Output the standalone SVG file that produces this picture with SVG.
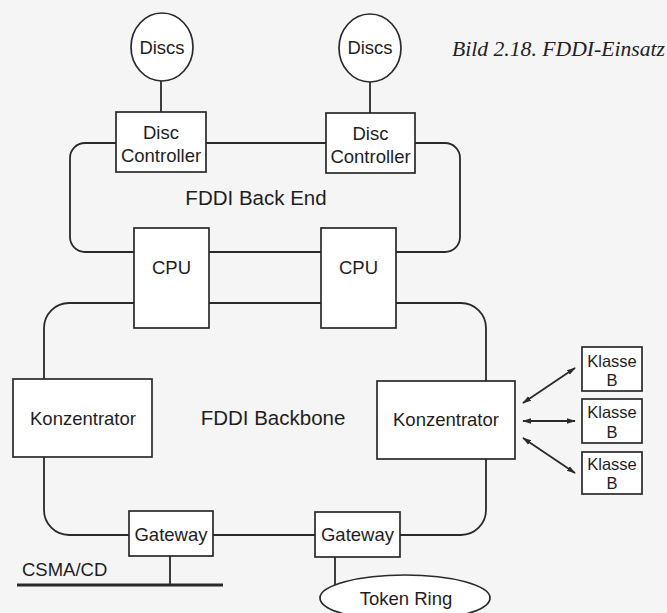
<svg xmlns="http://www.w3.org/2000/svg" width="667" height="613" viewBox="0 0 667 613">
<style>
.b{fill:#fff;stroke:#2a2a2a;stroke-width:1.7}
.l{fill:none;stroke:#2a2a2a;stroke-width:1.8}
.t{font-family:"Liberation Sans",Arial,sans-serif;font-size:18.5px;fill:#1e1e1e;text-anchor:middle}
.s{font-size:16.5px}
.r{font-size:20.5px}
</style>
<defs>
<marker id="a" viewBox="0 0 10 10" refX="9" refY="5" markerWidth="9" markerHeight="9" orient="auto-start-reverse" markerUnits="userSpaceOnUse"><path d="M0,2 L10,5 L0,8 z" fill="#2a2a2a"/></marker>
</defs>
<rect width="667" height="613" fill="#f5f5f5"/>
<text x="452" y="56" font-family="Liberation Serif,serif" font-style="italic" font-size="20.5" fill="#222" textLength="213" lengthAdjust="spacingAndGlyphs">Bild 2.18. FDDI-Einsatz</text>
<g id="connectors">
<rect class="l" x="70" y="143" width="390" height="109" rx="15"/>
<rect class="l" x="44" y="303" width="442" height="232" rx="25"/>
<line class="l" x1="161" y1="81" x2="161" y2="112"/>
<line class="l" x1="370" y1="82" x2="370" y2="113"/>
<line class="l" x1="170" y1="556" x2="170" y2="585"/>
<line x1="17" y1="585" x2="223" y2="585" stroke="#2a2a2a" stroke-width="3.2"/>
<line class="l" x1="335" y1="557" x2="335" y2="590"/>
<line class="l" x1="523" y1="403" x2="575" y2="368" marker-start="url(#a)" marker-end="url(#a)"/>
<line class="l" x1="523" y1="421" x2="575" y2="421" marker-start="url(#a)" marker-end="url(#a)"/>
<line class="l" x1="523" y1="438" x2="575" y2="473" marker-start="url(#a)" marker-end="url(#a)"/>
</g>
<g id="discs1"><ellipse class="b" cx="162" cy="47" rx="31" ry="34"/><text class="t" x="162" y="53.5">Discs</text></g>
<g id="discs2"><ellipse class="b" cx="370" cy="48" rx="31" ry="34"/><text class="t" x="370" y="54">Discs</text></g>
<g id="dc1"><rect class="b" x="116" y="112" width="90" height="60"/><text class="t" x="161" y="138.5">Disc</text><text class="t" x="161" y="161.5">Controller</text></g>
<g id="dc2"><rect class="b" x="326" y="113" width="89" height="60"/><text class="t" x="370.5" y="139.5">Disc</text><text class="t" x="370.5" y="162.5">Controller</text></g>
<text class="t r" x="256" y="205">FDDI Back End</text>
<g id="cpu1"><rect class="b" x="134" y="228" width="75" height="100"/><text class="t" x="171.5" y="273.5">CPU</text></g>
<g id="cpu2"><rect class="b" x="321" y="228" width="75" height="100"/><text class="t" x="358.5" y="273.5">CPU</text></g>
<g id="konz1"><rect class="b" x="13" y="379" width="139" height="78"/><text class="t" x="83" y="424.5">Konzentrator</text></g>
<text class="t r" x="273" y="425">FDDI Backbone</text>
<g id="konz2"><rect class="b" x="377" y="381" width="138" height="78"/><text class="t" x="446" y="425.5">Konzentrator</text></g>
<g id="k1"><rect class="b" x="582" y="347" width="60" height="44"/><text class="t s" x="612" y="367">Klasse</text><text class="t s" x="612" y="386">B</text></g>
<g id="k2"><rect class="b" x="582" y="399" width="60" height="44"/><text class="t s" x="612" y="418">Klasse</text><text class="t s" x="612" y="438">B</text></g>
<g id="k3"><rect class="b" x="582" y="452" width="60" height="42"/><text class="t s" x="612" y="470">Klasse</text><text class="t s" x="612" y="489">B</text></g>
<g id="gw1"><rect class="b" x="129" y="511" width="84" height="45"/><text class="t" x="171" y="540.5">Gateway</text></g>
<g id="gw2"><rect class="b" x="315" y="512" width="85" height="45"/><text class="t" x="357.5" y="541">Gateway</text></g>
<text class="t" x="22" y="576" style="text-anchor:start">CSMA/CD</text>
<g id="token"><ellipse class="b" cx="405" cy="598" rx="85" ry="23"/><text class="t" x="406" y="604.5">Token Ring</text></g>
</svg>
